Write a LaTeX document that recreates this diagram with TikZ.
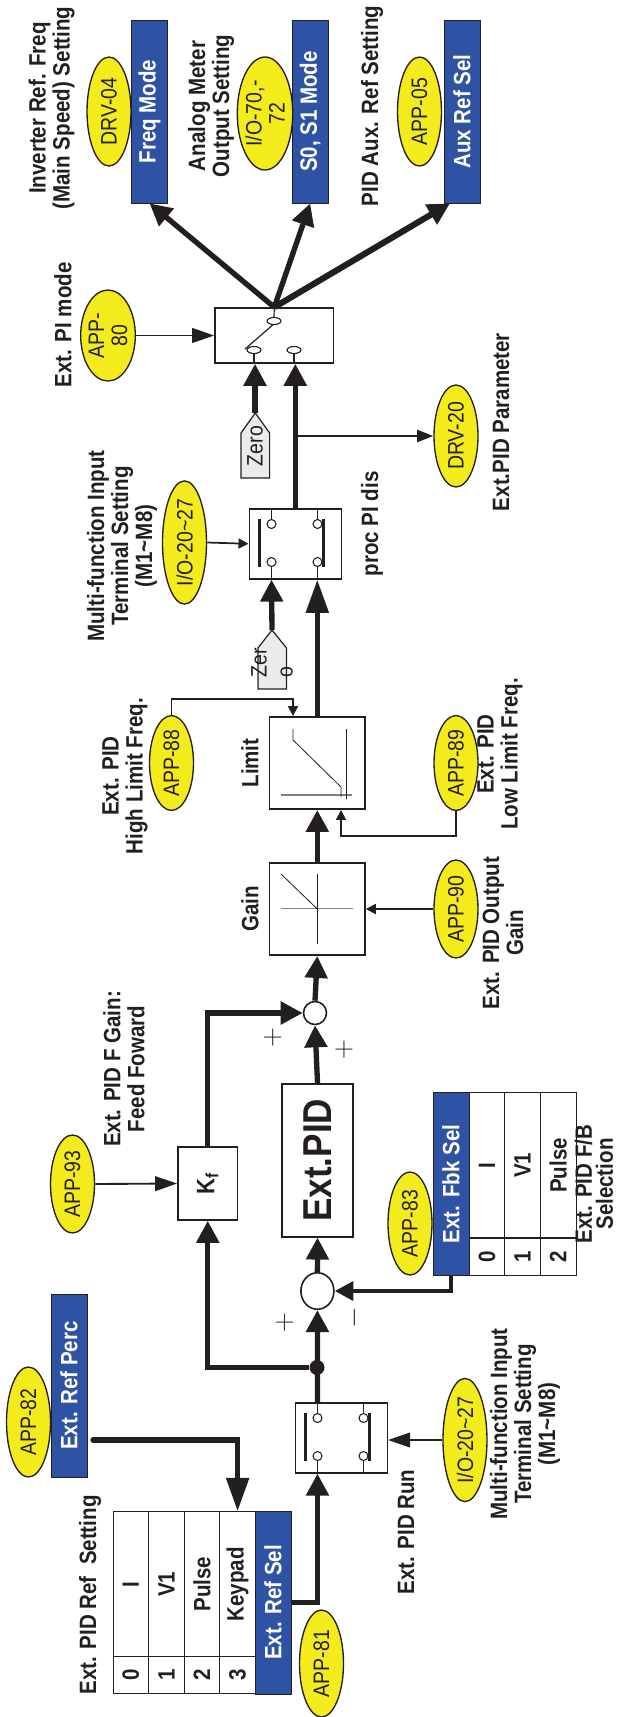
\documentclass[tikz,border=0pt]{standalone}
\usepackage{fontspec}
\setmainfont{Liberation Sans}
\usetikzlibrary{arrows.meta,calc,shapes.geometric}
\definecolor{ink}{HTML}{231F20}
\definecolor{selblue}{HTML}{2E52A4}
\definecolor{paryellow}{HTML}{F3EB1C}
\definecolor{tagfill}{HTML}{EBEBEB}
\definecolor{axisgrey}{HTML}{808080}
\newcommand{\boldlab}{\fontsize{15.4}{15.7}\selectfont\bfseries}
\newcommand{\parlab}{\fontsize{14.6}{15}\selectfont}
\tikzset{
 every node/.append style={text=ink,align=center,inner sep=0pt},
 size/.style 2 args={minimum width=#1*.75pt,minimum height=#2*.75pt},
 vsize/.style 2 args={minimum width=#1*.75pt,minimum height=#2*.652pt},
 upright/.style={rotate=90,yscale=1.15},
 title/.style={font=\boldlab,upright},
 par/.style={ellipse,draw=ink,fill=paryellow,line width=1pt,font=\parlab,upright},
 sel/.style={draw=ink,fill=selblue,line width=.6pt,font=\boldlab,text=white,upright,vsize={183}{36}},
 cell/.style={draw=ink,line width=.7pt,font=\boldlab,upright},
 unit/.style={draw=ink,fill=white,line width=1.2pt},
 sum/.style={ellipse,draw=ink,fill=white,line width=1.2pt},
 contact/.style={ellipse,draw=ink,fill=white,line width=.8pt,size={9}{9}},
 tap/.style={circle,fill=ink,size={15}{15}},
 flow/.style={-{Triangle[length=16.5pt,width=16.5pt]},draw=ink,line width=4pt},
 flowlong/.style={flow,-{Triangle[length=25pt,width=16.5pt]}},
 setting/.style={-{Triangle[length=16.5pt,width=11pt]},draw=ink,line width=1.4pt},
 limitline/.style={-{Triangle[length=7.5pt,width=7.5pt]},draw=ink,line width=1.3pt},
 stub/.style={draw=ink,line width=.9pt},
 blade/.style={draw=ink,line width=2.2pt},
 curve/.style={draw=ink,line width=.6pt},
 axis/.style={draw=axisgrey,line width=1pt},
 tag/.style={draw=ink,fill=tagfill,line width=.9pt},
}
\newcommand{\relay}[3]{
 \node[unit,size={92}{70},anchor=north west] (#1) at (#2,#3) {};
 \node[contact] (#1a) at (#2+23,#3+16) {};
 \node[contact] (#1b) at (#2+69,#3+16) {};
 \node[contact] (#1c) at (#2+23,#3+54) {};
 \node[contact] (#1d) at (#2+69,#3+54) {};
 \draw[stub] (#1a.north) -- (#1a |- #1.north);
 \draw[stub] (#1b.north) -- (#1b |- #1.north);
 \draw[stub] (#1c.south) -- (#1c |- #1.south);
 \draw[stub] (#1d.south) -- (#1d |- #1.south);
 \draw[blade] (#2+11,#3+11) -- (#2+11,#3+59);
 \draw[blade] (#2+75,#3+11) -- (#2+75,#3+59);
}

\begin{document}
\begin{tikzpicture}[x=.75pt,y=-.75pt]

\useasboundingbox (0,0) rectangle (617,1717);
\node[sel] (freqmode) at (149.6,111.5) {Freq Mode};
\node[sel] (s0s1) at (310.2,111.5) {S0, S1 Mode};
\node[sel] (auxref) at (462,111.5) {Aux Ref Sel};
\node[par,vsize={109}{44}] (drv04) at (109,111.5) {DRV-04};
\node[par,vsize={113}{44}] (io70) at (265,113.5) {I/O-70,-\\72};
\node[par,vsize={109}{44}] (app05) at (419.5,111.5) {APP-05};
\node[title] (lblfreq) at (51.5,108) {Inverter Ref. Freq\\(Main Speed) Setting};
\node[title] (lblmeter) at (211,106) {Analog Meter\\Output Setting};
\node[title] (lblaux) at (372,106) {PID Aux. Ref Setting};

\node[unit,size={118.6}{55}] (pimode) at (274.3,335.5) {};
\node[contact,size={14}{7}] (pimodec) at (274,321) {};
\node[contact,size={14}{7}] (pimodea) at (254,350) {};
\node[contact,size={14}{7}] (pimodeb) at (294,350) {};
\draw[stub] (pimodec.north) -- (pimode.north);
\draw[stub] (pimodea.south) -- (pimodea |- pimode.south);
\draw[stub] (pimodeb.south) -- (pimodeb |- pimode.south);
\draw[stub] (272.7,325) -- (245,349);
\draw[flow] (pimode.north) -- (freqmode.west);
\draw[flow] (pimode.north) -- (s0s1.west);
\draw[flow,line width=4.6pt] (pimode.north) -- ([xshift=-9pt]auxref.west);
\node[par,vsize={91}{44}] (app80) at (108,335.5) {APP-\\80};
\draw[setting] (app80.south) -- (pimode.west);
\node[title] (lblpimode) at (63,325) {Ext. PI mode};

\draw[tag] (241,478) -- (241,433) -- (255.3,413) -- (269.6,433) -- (269.6,478) -- cycle;
\coordinate (zerotip) at (255,413);
\node[upright,font=\parlab] (zerotxt) at (255,446) {Zero};
\draw[flow] (zerotip) -- (zerotip |- pimode.south);

\relay{procdis}{248.5}{508}
\draw[flow] (procdis.north) -- (procdis.north |- pimode.south);
\node[par,vsize={102}{44}] (drv20) at (456,436) {DRV-20};
\draw[setting,-{Triangle[length=12pt,width=9pt]}] (procdis.north |- drv20.north) -- (drv20.north);
\node[title] (lblparam) at (501,422) {Ext.PID Parameter};
\node[title] (lblproc) at (372,524) {proc PI dis};
\node[par,vsize={113}{44}] (io20) at (184.5,542.5) {I/O-20\textasciitilde27};
\draw[limitline] (io20.south) -- (procdis.west);
\node[title] (lblmfi) at (122,546) {Multi-function Input\\Terminal Setting\\(M1\textasciitilde M8)};

\draw[tag] (258,689) -- (258,648) -- (272,630) -- (286.5,648) -- (286.5,689) -- cycle;
\coordinate (zertip) at (272,630);
\node[upright,font=\parlab,align=left] (zertxt) at (272,663) {Zer\\[2pt]o};
\draw[flow] (zertip) -- (procdisc |- procdis.south);

\node[unit,size={95.4}{92.3}] (limit) at (317.3,763) {};
\draw[flowlong] (limit.north) -- (limit.north |- procdis.south);
\draw[axis] (280.6,795) -- (352,795);
\draw[curve] (346,729) -- (346,799);
\draw[curve] (293,729) -- (293,740) -- (341,787) -- (341,797);
\node[title] (lbllimit) at (250,763) {Limit};
\node[par,vsize={92}{44}] (app88) at (171.5,763) {APP-88};
\coordinate (limhi) at (293,699);
\draw[limitline] (app88.east) |- (limhi) -- (limhi |- limit.north);
\node[title] (lblhigh) at (125,776) {Ext. PID\\High Limit Freq.};
\node[par,vsize={92}{44}] (app89) at (456,763) {APP-89};
\coordinate (limlo) at (341,836);
\draw[limitline] (app89.west) |- (limlo) -- (limlo |- limit.south);
\node[title] (lbllow) at (500,754) {Ext. PID\\Low Limit Freq.};

\node[unit,size={95.4}{92.3}] (gain) at (317.3,909) {};
\draw[flow] (gain.north) -- (limit.south);
\draw[axis] (281,908.7) -- (353,908.7);
\draw[curve] (317,874) -- (317,944);
\draw[curve] (281,874) -- (317,908.7);
\node[title] (lblgain) at (250,909) {Gain};
\node[par,vsize={98}{44}] (app90) at (456,909) {APP-90};
\draw[limitline] (app90.north) -- (gain.east);
\node[title] (lbloutgain) at (503,933) {Ext. PID Output\\Gain};

\node[sum,size={23}{23}] (sumout) at (315,1013) {};
\draw[flow] (sumout.north) -- (gain.south);
\node[font=\fontsize{20}{20}\selectfont] (plusa) at (272.7,1038) {$+$};
\node[font=\fontsize{20}{20}\selectfont] (plusb) at (344,1050) {$+$};
\node[cell,font=\fontsize{26.3}{30}\selectfont\bfseries,line width=1.2pt,vsize={153}{71}] (extpid) at (317.5,1160.2) {Ext.PID};
\draw[flow] (extpid.east) -- (sumout.south);
\node[cell,font=\fontsize{16.5}{18}\selectfont\bfseries,line width=1.2pt,vsize={73}{59.5}] (kf) at (207.75,1183.5) {K\textsubscript{f}};
\draw[flow] (kf.east) |- (sumout.west);
\node[par,vsize={98}{44}] (app93) at (72.5,1184) {APP-93};
\draw[setting] (app93.south) -- (kf.north);
\node[title] (lblff) at (124,1069) {Ext. PID F Gain:\\Feed Foward};

\node[sum,size={33}{36.5}] (sumerr) at (317.4,1291) {};
\draw[flow] (sumerr.north) -- (extpid.west);
\node[font=\fontsize{20}{20}\selectfont] (plusc) at (284.6,1322.7) {$+$};
\node[rotate=90,font=\fontsize{20}{20}\selectfont] (minus) at (354.5,1317.5) {$-$};
\node[sel] (fbksel) at (451,1184) {Ext. Fbk Sel};
\foreach \val [count=\i from 0] in {I,V1,Pulse}{
 \node[cell,vsize={145.3}{35.6}] (fbkv\i) at ({487+35.6*\i},1165.3) {\val};
 \node[cell,vsize={37}{35.6}] (fbkn\i) at ({487+35.6*\i},1256.5) {\i};
}
\draw[flow,line width=3.6pt,-{Triangle[length=14pt,width=14pt]}] (fbksel.west) |- (sumerr.east);
\node[par,vsize={103}{44}] (app83) at (410,1223.5) {APP-83};
\node[title] (lblfb) at (594,1184) {Ext. PID F/B\\[-2pt]Selection};

\relay{extrun}{294.5}{1402}
\node[tap] (taprun) at (317,1367.5) {};
\draw[flow] (extruna |- extrun.north) -- (sumerr.south);
\draw[flow] (taprun) -| (kf.west);
\node[par,vsize={113}{44}] (iorun) at (465,1440) {I/O-20\textasciitilde27};
\draw[setting] (iorun.north) -- (iorun.north -| extrun.east);
\node[title] (lblrunmfi) at (525,1424) {Multi-function Input\\Terminal Setting\\(M1\textasciitilde M8)};
\node[title] (lblrun) at (406,1532) {Ext. PID Run};

\node[sel] (refperc) at (69,1385.5) {Ext. Ref Perc};
\node[par,vsize={110}{44}] (app82) at (28.5,1422) {APP-82};
\node[sel] (refsel) at (273,1602.4) {Ext. Ref Sel};
\foreach \val [count=\i from 0] in {I,V1,Pulse,Keypad}{
 \node[cell,vsize={145}{35.6}] (refv\i) at ({130.8+35.6*\i},1584.2) {\val};
 \node[cell,vsize={36.3}{35.6}] (refn\i) at ({130.8+35.6*\i},1674.9) {\i};
}
\coordinate (percout) at (93,1440);
\draw[flowlong,line cap=round] (percout) -| (refv3.east);
\draw[flow] (refsel.south) -| (extrunc |- extrun.south);
\node[par,vsize={107}{44}] (app81) at (321.5,1663.5) {APP-81};
\node[title] (lblref) at (90,1595) {Ext. PID Ref\ \ Setting};

\end{tikzpicture}
\end{document}
